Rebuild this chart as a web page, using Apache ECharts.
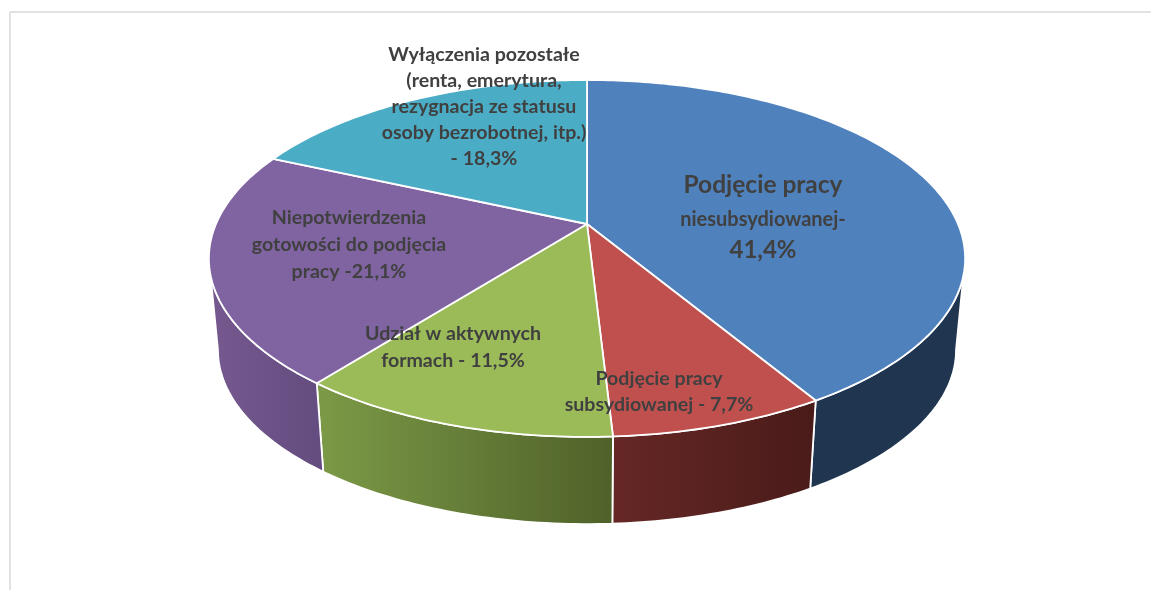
<!DOCTYPE html>
<html><head><meta charset="utf-8">
<style>html,body{margin:0;padding:0;background:#fff}#c{width:1151px;height:590px}</style>
<script src="https://cdn.jsdelivr.net/npm/echarts@6/dist/echarts.min.js"></script>
</head><body><div id="c"></div>
<script>
const categories = ['Podjęcie pracy niesubsydiowanej','Podjęcie pracy subsydiowanej','Udział w aktywnych formach','Niepotwierdzenia gotowości do podjęcia pracy','Wyłączenia pozostałe (renta, emerytura, rezygnacja ze statusu osoby bezrobotnej, itp.)'];
const shares = [41.4, 7.7, 11.5, 21.1, 18.3];
const labelLines = [
  ['Podjęcie pracy','niesubsydiowanej-','41,4%'],
  ['Podjęcie pracy','subsydiowanej - 7,7%'],
  ['Udział w aktywnych','formach - 11,5%'],
  ['Niepotwierdzenia','gotowości do podjęcia','pracy -21,1%'],
  ['Wyłączenia pozostałe','(renta, emerytura,','rezygnacja ze statusu','osoby bezrobotnej, itp.)','- 18,3%']
];
// styling and layout, separate from the data
const topColors = ['#4f81bd','#c0504d','#9bbb59','#8064a2','#4bacc6'];
const sideColors = [['#1f3550','#1f3550'],['#662826','#491b19'],['#7c9a47','#4f6129'],['#76598f','#634c7f'],['#2f7286','#2f7286']];
const labelLayout = [
  {x:763, y:[185,220,250], size:[24.5,20,24]},
  {x:659, y:[379,405], size:[19.6,19.6]},
  {x:453, y:[334,361], size:[19.6,19.6]},
  {x:349, y:[218,245,272], size:[19.6,19.6,19.6]},
  {x:484, y:[55,81,107,133,159], size:[19.6,19.6,19.6,19.6,19.6]}
];
const CX=587, APEX_Y=224, A=371, B=171.8, K=-0.193, LOWER_Y=316.3, LOWER_S=0.976;
const TAN_R=Math.acos(-0.193), TAN_L=2*Math.PI-TAN_R; // silhouette angles

const total = shares.reduce((a,b)=>a+b,0);
const starts=[]; { let c=0; shares.forEach(v=>{starts.push(c/total*2*Math.PI); c+=v;}); }

function proj(t, lower){
  const x=Math.sin(t), y=-Math.cos(t), w=1+K*y, s=lower?LOWER_S:1;
  return [CX+s*A*x/w, (lower?LOWER_Y:APEX_Y)+s*B*y/w];
}
function arc(t0,t1,lower){
  const n=Math.max(2,Math.ceil(Math.abs(t1-t0)*60)), p=[];
  for(let i=0;i<=n;i++) p.push(proj(t0+(t1-t0)*i/n,lower));
  return p;
}
function renderTop(params,api){
  const i=params.dataIndex, t0=starts[i], t1=t0+api.value(0)/total*2*Math.PI;
  return {type:'polygon',shape:{points:[[CX,APEX_Y]].concat(arc(t0,t1,false))},
    style:{fill:topColors[i],stroke:'#fff',lineWidth:1.8,lineJoin:'round'}};
}
function renderSide(params,api){
  const i=params.dataIndex, t0=starts[i], t1=t0+api.value(0)/total*2*Math.PI;
  const a=Math.max(t0,TAN_R), b=Math.min(t1,TAN_L);
  if(b<=a) return null;
  const pts=arc(a,b,false).concat(arc(b,a,true));
  const grad=new echarts.graphic.LinearGradient(0,0,1,0,[{offset:0,color:sideColors[i][0]},{offset:1,color:sideColors[i][1]}]);
  return {type:'polygon',shape:{points:pts},style:{fill:grad,stroke:'#fff',lineWidth:1.8,lineJoin:'round'}};
}
const texts=[];
labelLines.forEach((lines,i)=>lines.forEach((s,j)=>texts.push({
  type:'text',z:50,x:labelLayout[i].x,y:labelLayout[i].y[j],
  style:{text:s,fill:'#404040',font:'bold '+labelLayout[i].size[j]+'px Lato, "Open Sans", sans-serif',textAlign:'center',textVerticalAlign:'middle'}
})));
const frame=[
  {type:'line',z:1,shape:{x1:10,y1:12,x2:1151,y2:12},style:{stroke:'#d9d9d9',lineWidth:1.5}},
  {type:'line',z:1,shape:{x1:10,y1:12,x2:10,y2:590},style:{stroke:'#d9d9d9',lineWidth:1.5}}
];
const data=shares.map((v,i)=>({name:categories[i],value:[v]}));
const chart=echarts.init(document.getElementById('c'),null,{renderer:'canvas'});
chart.setOption({
  animation:false,backgroundColor:'#fff',
  graphic:frame.concat(texts),
  series:[
    {type:'custom',coordinateSystem:'none',renderItem:renderSide,data:data,z:2,silent:true},
    {type:'custom',coordinateSystem:'none',renderItem:renderTop,data:data,z:3,silent:true}
  ]
});
</script></body></html>
